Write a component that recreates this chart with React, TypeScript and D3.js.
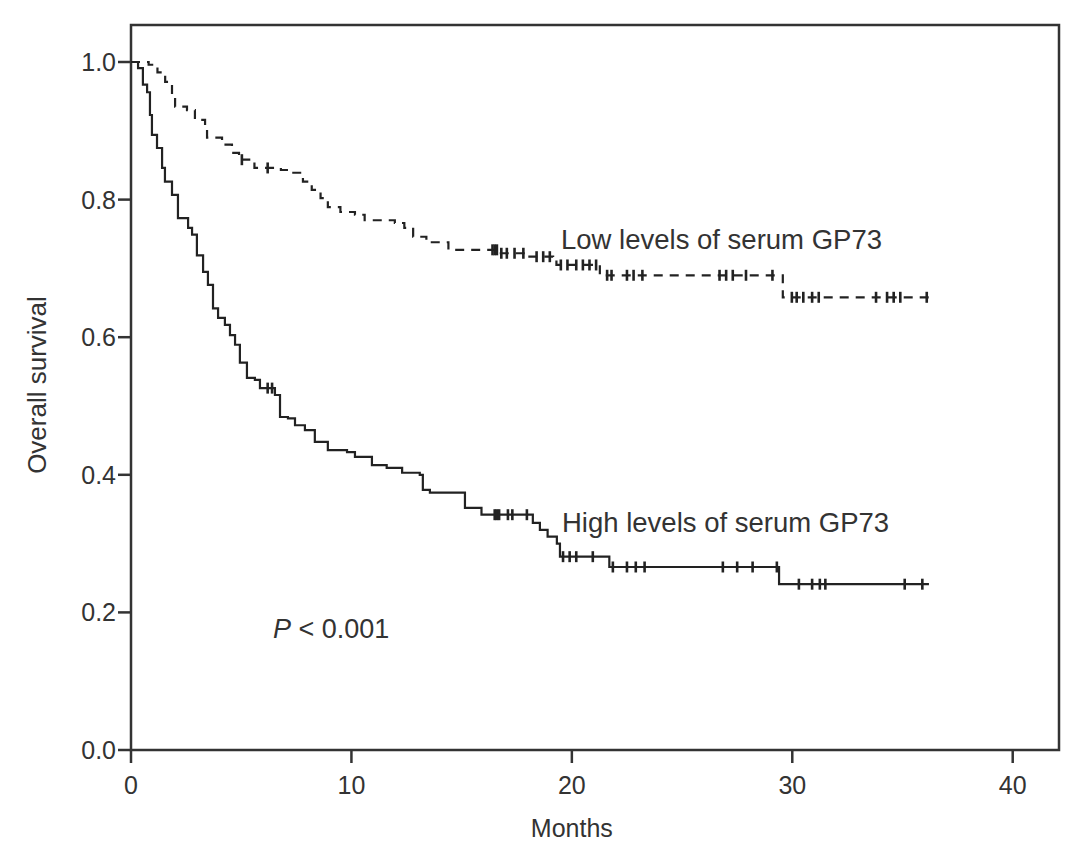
import * as d3 from 'd3'

// Kaplan-Meier style survival curves
const xTicks = [0, 10, 20, 30, 40]
const yTicks = [0, 0.2, 0.4, 0.6, 0.8, 1.0]

// [month, survival after the drop]
const highSteps: [number, number][] = [
  [0, 1.0], [0.32, 0.991], [0.54, 0.967], [0.73, 0.956], [0.86, 0.923],
  [0.95, 0.894], [1.18, 0.875], [1.41, 0.846], [1.54, 0.826], [1.86, 0.807],
  [2.13, 0.773], [2.59, 0.759], [2.77, 0.749], [2.99, 0.719], [3.27, 0.695],
  [3.49, 0.676], [3.72, 0.642], [3.95, 0.628], [4.26, 0.618], [4.49, 0.603],
  [4.72, 0.589], [4.94, 0.563], [5.26, 0.541], [5.62, 0.538], [5.85, 0.526],
  [6.53, 0.516], [6.76, 0.484], [7.12, 0.482], [7.44, 0.472], [7.89, 0.465],
  [8.34, 0.448], [8.93, 0.436], [9.8, 0.433], [10.16, 0.426], [10.93, 0.414],
  [11.6, 0.41], [12.3, 0.403], [13.1, 0.4], [13.24, 0.378], [13.56, 0.374],
  [15.15, 0.352], [15.9, 0.342], [18.23, 0.33], [18.55, 0.32], [18.9, 0.31],
  [19.32, 0.3], [19.46, 0.281], [21.7, 0.266], [29.4, 0.241],
]
const highCensor = [
  6.2, 6.4, 16.5, 16.6, 16.7, 17.1, 17.3, 17.96, 19.6, 19.9, 20.2, 20.95,
  21.86, 22.5, 22.9, 23.3, 26.85, 27.5, 28.2, 29.3, 30.3, 30.9, 31.25, 31.5,
  35.1, 35.9,
]
const highEnd = 36.2

const lowSteps: [number, number][] = [
  [0, 1.0], [0.8, 0.996], [1.2, 0.985], [1.55, 0.971], [1.86, 0.952],
  [2.0, 0.935], [2.54, 0.93], [2.9, 0.916], [3.36, 0.908], [3.45, 0.89],
  [4.13, 0.88], [4.58, 0.868], [4.9, 0.858], [5.6, 0.846], [6.8, 0.843],
  [7.3, 0.839], [7.8, 0.826], [8.2, 0.814], [8.6, 0.802], [8.93, 0.789],
  [9.5, 0.782], [10.16, 0.778], [10.6, 0.77], [11.97, 0.766], [12.4, 0.759],
  [12.8, 0.746], [13.4, 0.738], [14.4, 0.727], [16.64, 0.722], [17.96, 0.717],
  [19.15, 0.712], [19.3, 0.705], [21.27, 0.69], [29.57, 0.658],
]
const lowCensor = [
  5.03, 6.2, 16.4, 16.5, 16.6, 16.8, 17.05, 17.4, 17.8, 18.4, 18.7, 19.0,
  19.5, 19.8, 20.2, 20.5, 20.8, 21.1, 21.6, 21.8, 22.5, 22.8, 23.2, 26.7,
  27.0, 27.3, 27.9, 29.1, 29.98, 30.2, 30.5, 30.9, 31.2, 33.8, 34.3, 34.6,
  34.9, 36.1,
]
const lowEnd = 36.3

const W = 1087
const H = 863
const left = 131
const right = 1059
const top = 25
const bottom = 750
const ink = '#333'
const font = '"Liberation Sans", Arial, Helvetica, sans-serif'

function survivalAt(steps: [number, number][], t: number) {
  let s = steps[0][1]
  for (const [m, v] of steps) if (m <= t) s = v
  return s
}

export default function App() {
  const x = d3.scaleLinear([0, 42.1], [left, right])
  const y = d3.scaleLinear([0, 1], [bottom, 62])
  const line = d3
    .line<[number, number]>()
    .x((d) => x(d[0]))
    .y((d) => y(d[1]))
    .curve(d3.curveStepAfter)

  const curve = (steps: [number, number][], end: number) =>
    line([...steps, [end, steps[steps.length - 1][1]]]) || undefined

  const marks = (steps: [number, number][], times: number[]) =>
    times.map((t, i) => {
      const cx = x(t)
      const cy = y(survivalAt(steps, t))
      return (
        <line key={i} x1={cx} x2={cx} y1={cy - 5.5} y2={cy + 5.5} stroke="#222" strokeWidth={2.6} />
      )
    })

  return (
    <svg
      width={W}
      height={H}
      style={{ position: 'absolute', left: 0, top: 0, background: '#fff' }}
      fontFamily={font}
    >
      <rect x={left} y={top} width={right - left} height={bottom - top} fill="none" stroke={ink} strokeWidth={2.5} />
      {yTicks.map((t) => (
        <g key={t}>
          <line x1={left - 13} x2={left} y1={y(t)} y2={y(t)} stroke={ink} strokeWidth={2.5} />
          <text x={left - 15} y={y(t)} dy="0.36em" textAnchor="end" fontSize={25} fill={ink}>
            {t.toFixed(1)}
          </text>
        </g>
      ))}
      {xTicks.map((t) => (
        <g key={t}>
          <line x1={x(t)} x2={x(t)} y1={bottom} y2={bottom + 13} stroke={ink} strokeWidth={2.5} />
          <text x={x(t)} y={bottom + 44} textAnchor="middle" fontSize={25} fill={ink}>
            {t}
          </text>
        </g>
      ))}
      <text x={x(20)} y={837} textAnchor="middle" fontSize={25} fill={ink}>
        Months
      </text>
      <text
        transform={`translate(46,385) rotate(-90)`}
        textAnchor="middle"
        fontSize={26}
        fill={ink}
      >
        Overall survival
      </text>

      <path d={curve(lowSteps, lowEnd)} fill="none" stroke="#222" strokeWidth={2.2} strokeDasharray="9,7" />
      {marks(lowSteps, lowCensor)}
      <path d={curve(highSteps, highEnd)} fill="none" stroke="#222" strokeWidth={2.2} />
      {marks(highSteps, highCensor)}

      <text x={561} y={249} fontSize={27.5} fill={ink}>
        Low levels of serum GP73
      </text>
      <text x={562} y={532} fontSize={27.5} fill={ink}>
        High levels of serum GP73
      </text>
      <text x={273} y={638} fontSize={27} fill={ink}>
        <tspan fontStyle="italic">P</tspan> &lt; 0.001
      </text>
    </svg>
  )
}
